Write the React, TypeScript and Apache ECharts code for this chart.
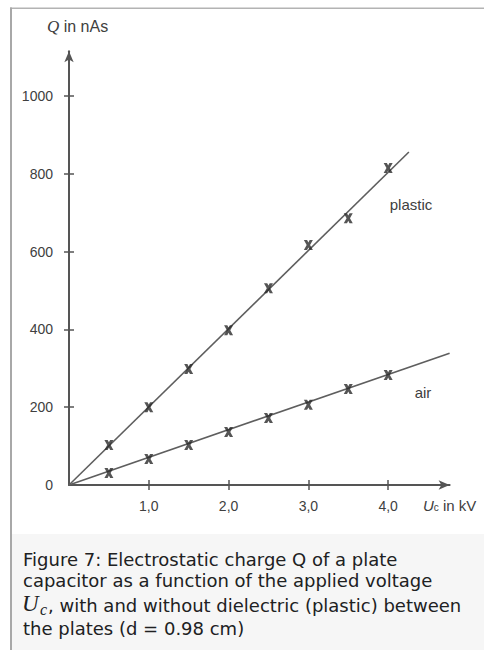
import React, { useEffect, useRef } from "react";
import * as echarts from "echarts";

// ---- data ----
const xValues = [0.5, 1.0, 1.5, 2.0, 2.5, 3.0, 3.5, 4.0];
const plasticQ = [103, 200, 298, 398, 506, 617, 686, 815];
const airQ = [31, 67, 103, 136, 172, 206, 247, 283];
const plasticFitX = [0, 4.26];
const plasticFitQ = [0, 856];
const airFitX = [0, 4.77];
const airFitQ = [0, 339];
const xTicks = [1, 2, 3, 4];
const xTickLabels = ["1,0", "2,0", "3,0", "4,0"];
const yTickMarks = [200, 400, 600, 800, 1000];
const yTickLabels = [0, 200, 400, 600, 800, 1000];
const captionLines = [
  "Figure 7: Electrostatic charge Q of a plate",
  "capacitor as a function of the applied voltage",
  ", with and without dielectric (plastic) between",
  "the plates (d = 0.98 cm)",
];

const X_MAX = 4.77;
const Y_MAX = 1115;
const AXIS = "#555555";
const TXT = "#404040";
const SANS = "Liberation Sans, Arial, sans-serif";
const CAP = "DejaVu Sans, sans-serif";
const CAP_SIZE = 18;
const XSYM = "path://M0,0H3.6L5,2.4L6.4,0H10L6.9,5L10,10H6.4L5,7.6L3.6,10H0L3.1,5Z";

export default function App() {
  const ref = useRef<HTMLDivElement>(null);
  useEffect(() => {
    if (!ref.current) return;
    const chart = echarts.init(ref.current, undefined, { renderer: "svg" });
    const baseX = {
      type: "value",
      min: 0,
      max: X_MAX,
      position: "bottom",
      splitLine: { show: false },
    };
    const baseY = {
      type: "value",
      min: 0,
      max: Y_MAX,
      position: "left",
      splitLine: { show: false },
    };
    const capText = (text: string, x: number, y: number) => ({
      type: "text",
      x,
      y,
      style: { text, fontSize: CAP_SIZE, fontFamily: CAP, fill: "#202122", verticalAlign: "middle" },
    });
    chart.setOption({
      animation: false,
      backgroundColor: "#ffffff",
      grid: { left: 69, right: 34.4, top: 51.3, bottom: 165, containLabel: false },
      xAxis: [
        {
          ...baseX,
          axisLine: {
            show: true,
            symbol: ["none", "arrow"],
            symbolSize: [7, 11],
            lineStyle: { color: AXIS, width: 2 },
          },
          axisTick: { show: true, customValues: xTicks, length: 5, lineStyle: { color: AXIS, width: 1.5 } },
          axisLabel: {
            show: true,
            customValues: xTicks,
            formatter: (v: number) => xTickLabels[xTicks.indexOf(Math.round(v))] ?? "",
            margin: 14,
            fontSize: 14,
            fontFamily: SANS,
            color: TXT,
          },
        },
        {
          ...baseX,
          axisLine: { show: false },
          axisTick: { show: true, inside: true, customValues: xTicks, length: 5, lineStyle: { color: AXIS, width: 1.5 } },
          axisLabel: { show: false },
        },
      ],
      yAxis: [
        {
          ...baseY,
          axisLine: {
            show: true,
            symbol: ["none", "arrow"],
            symbolSize: [7, 11],
            lineStyle: { color: AXIS, width: 2 },
          },
          axisTick: { show: true, customValues: yTickMarks, length: 5, lineStyle: { color: AXIS, width: 1.5 } },
          axisLabel: {
            show: true,
            customValues: yTickLabels,
            formatter: (v: number) => String(Math.round(v)),
            margin: 16,
            fontSize: 14,
            fontFamily: SANS,
            color: TXT,
          },
        },
        {
          ...baseY,
          axisLine: { show: false },
          axisTick: { show: true, inside: true, customValues: yTickMarks, length: 5, lineStyle: { color: AXIS, width: 1.5 } },
          axisLabel: { show: false },
        },
      ],
      series: [
        {
          type: "line",
          data: plasticFitX.map((x, i) => [x, plasticFitQ[i]]),
          symbol: "none",
          lineStyle: { color: "#5e5e5e", width: 1.6 },
          silent: true,
        },
        {
          type: "line",
          data: airFitX.map((x, i) => [x, airFitQ[i]]),
          symbol: "none",
          lineStyle: { color: "#5e5e5e", width: 1.6 },
          silent: true,
        },
        {
          type: "scatter",
          data: xValues.map((x, i) => [x, plasticQ[i]]),
          symbol: XSYM,
          symbolSize: [9, 10],
          itemStyle: { color: "#2a2a2a" },
          z: 5,
        },
        {
          type: "scatter",
          data: xValues.map((x, i) => [x, airQ[i]]),
          symbol: XSYM,
          symbolSize: [9, 10],
          itemStyle: { color: "#2a2a2a" },
          z: 5,
        },
      ],
      graphic: [
        { type: "rect", shape: { x: 12, y: 534, width: 472, height: 116 }, style: { fill: "#f6f6f6" }, z: -10 },
        { type: "rect", shape: { x: 10, y: 7.5, width: 474, height: 1.6 }, style: { fill: "#b3b3b3" } },
        { type: "rect", shape: { x: 10, y: 7.5, width: 2, height: 642.5 }, style: { fill: "#a8a8a8" } },
        {
          type: "text",
          x: 47,
          y: 26,
          style: {
            text: "{q|Q} in nAs",
            fontSize: 16,
            fontFamily: SANS,
            fill: TXT,
            verticalAlign: "middle",
            rich: { q: { fontStyle: "italic", fontSize: 17, fontFamily: "Liberation Serif, serif", fill: TXT } },
          },
        },
        {
          type: "text",
          x: 423,
          y: 505,
          style: {
            text: "{u|U}{c|c} in kV",
            fontSize: 15,
            fontFamily: SANS,
            fill: TXT,
            verticalAlign: "middle",
            rich: {
              u: { fontStyle: "italic", fontSize: 15, fontFamily: SANS, fill: TXT },
              c: { fontSize: 10, fontFamily: SANS, fill: TXT, verticalAlign: "bottom" },
            },
          },
        },
        {
          type: "text",
          x: 411,
          y: 204,
          style: { text: "plastic", fontSize: 15, fontFamily: SANS, fill: TXT, align: "center", verticalAlign: "middle" },
        },
        {
          type: "text",
          x: 423,
          y: 392,
          style: { text: "air", fontSize: 15, fontFamily: SANS, fill: TXT, align: "center", verticalAlign: "middle" },
        },
        capText(captionLines[0], 23, 559),
        capText(captionLines[1], 23, 580),
        {
          type: "text",
          x: 22,
          y: 603,
          style: {
            text: "U",
            fontSize: 23,
            fontStyle: "italic",
            fontFamily: "Liberation Serif, serif",
            fill: "#202122",
            verticalAlign: "middle",
          },
        },
        {
          type: "text",
          x: 40,
          y: 609,
          style: {
            text: "c",
            fontSize: 16,
            fontStyle: "italic",
            fontFamily: "Liberation Serif, serif",
            fill: "#202122",
            verticalAlign: "middle",
          },
        },
        capText(captionLines[2], 48, 605),
        capText(captionLines[3], 23, 628),
      ],
    });
    return () => chart.dispose();
  }, []);
  return (
    <div
      ref={ref}
      style={{ position: "fixed", left: 0, top: 0, width: 484, height: 650 }}
    />
  );
}
